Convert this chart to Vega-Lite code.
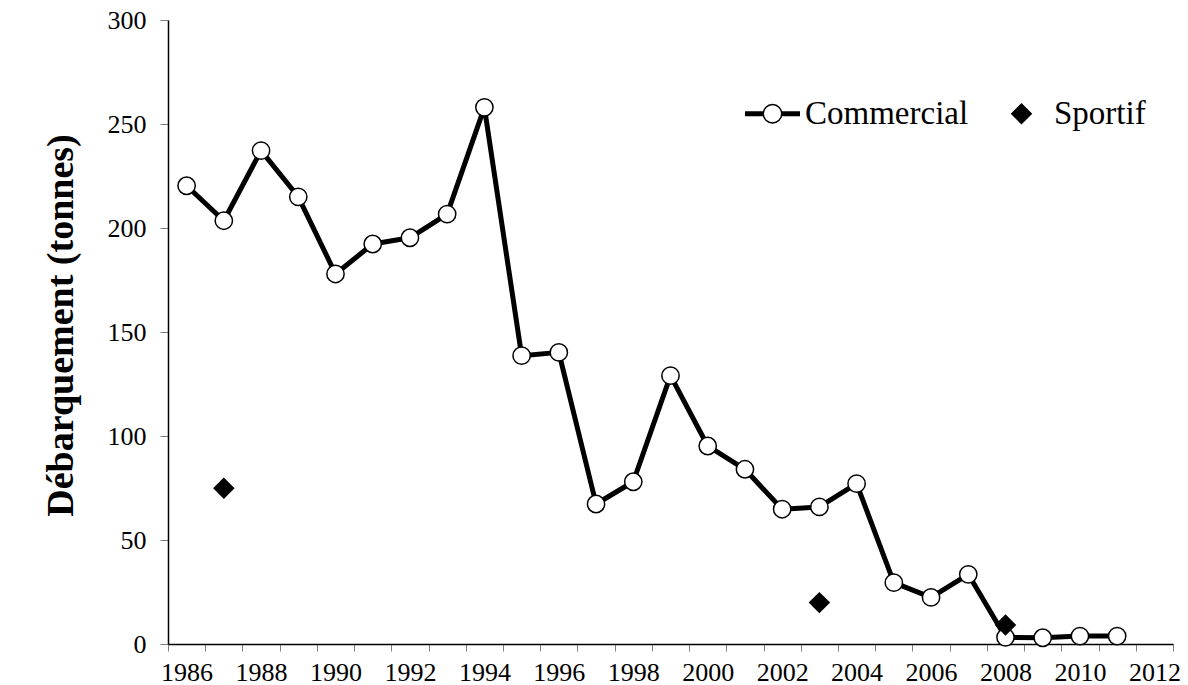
{
  "$schema": "https://vega.github.io/schema/vega-lite/v6.json",
  "width": 1005,
  "height": 624,
  "autosize": {"type": "none"},
  "padding": {"left": 168, "top": 20, "right": 15, "bottom": 41},
  "background": "white",
  "config": {"view": {"stroke": null}, "font": "Liberation Serif"},
  "data": {
    "values": [
      {"year": 1986, "value": 220.3, "series": "Commercial"},
      {"year": 1987, "value": 203.5, "series": "Commercial"},
      {"year": 1988, "value": 237.2, "series": "Commercial"},
      {"year": 1989, "value": 215.0, "series": "Commercial"},
      {"year": 1990, "value": 177.9, "series": "Commercial"},
      {"year": 1991, "value": 192.3, "series": "Commercial"},
      {"year": 1992, "value": 195.3, "series": "Commercial"},
      {"year": 1993, "value": 206.7, "series": "Commercial"},
      {"year": 1994, "value": 258.0, "series": "Commercial"},
      {"year": 1995, "value": 138.6, "series": "Commercial"},
      {"year": 1996, "value": 140.2, "series": "Commercial"},
      {"year": 1997, "value": 67.3, "series": "Commercial"},
      {"year": 1998, "value": 78.0, "series": "Commercial"},
      {"year": 1999, "value": 129.0, "series": "Commercial"},
      {"year": 2000, "value": 95.2, "series": "Commercial"},
      {"year": 2001, "value": 84.0, "series": "Commercial"},
      {"year": 2002, "value": 64.8, "series": "Commercial"},
      {"year": 2003, "value": 65.9, "series": "Commercial"},
      {"year": 2004, "value": 77.1, "series": "Commercial"},
      {"year": 2005, "value": 29.5, "series": "Commercial"},
      {"year": 2006, "value": 22.4, "series": "Commercial"},
      {"year": 2007, "value": 33.5, "series": "Commercial"},
      {"year": 2008, "value": 3.2, "series": "Commercial"},
      {"year": 2009, "value": 3.0, "series": "Commercial"},
      {"year": 2010, "value": 3.8, "series": "Commercial"},
      {"year": 2011, "value": 3.8, "series": "Commercial"},
      {"year": 1987, "value": 74.9, "series": "Sportif"},
      {"year": 2003, "value": 19.9, "series": "Sportif"},
      {"year": 2008, "value": 9.1, "series": "Sportif"}
    ]
  },
  "encoding": {
    "x": {
      "field": "year",
      "type": "ordinal",
      "scale": {
        "type": "band",
        "domain": [1986, 1987, 1988, 1989, 1990, 1991, 1992, 1993, 1994, 1995, 1996, 1997, 1998, 1999, 2000, 2001, 2002, 2003, 2004, 2005, 2006, 2007, 2008, 2009, 2010, 2011, 2012],
        "paddingInner": 0,
        "paddingOuter": 0
      },
      "axis": {
        "title": null,
        "tickBand": "extent",
        "labelAngle": 0,
        "labelExpr": "datum.value % 2 === 0 ? datum.label : ''",
        "labelFont": "Liberation Serif",
        "labelFontSize": 26,
        "labelColor": "black",
        "labelPadding": 8,
        "labelOverlap": false,
        "tickSize": 7,
        "tickColor": "#7f7f7f",
        "tickWidth": 1,
        "domainColor": "black",
        "domainWidth": 1.5,
        "grid": false
      }
    },
    "y": {
      "field": "value",
      "type": "quantitative",
      "scale": {"domain": [0, 300], "nice": false, "zero": true},
      "axis": {
        "values": [0, 50, 100, 150, 200, 250, 300],
        "grid": false,
        "domainColor": "black",
        "domainWidth": 1.5,
        "tickColor": "#7f7f7f",
        "tickSize": 8,
        "tickWidth": 1,
        "labelFont": "Liberation Serif",
        "labelFontSize": 26,
        "labelColor": "black",
        "labelPadding": 14,
        "labelFlush": false,
        "labelOverlap": false,
        "title": "Débarquement (tonnes)",
        "titleFont": "Liberation Serif",
        "titleFontWeight": "bold",
        "titleFontSize": 38,
        "titleColor": "black",
        "titlePadding": 27,
        "titleY": 305
      }
    }
  },
  "layer": [
    {
      "transform": [{"filter": "datum.series === 'Commercial'"}],
      "mark": {"type": "line", "color": "black", "strokeWidth": 5, "strokeJoin": "round"}
    },
    {
      "transform": [{"filter": "datum.series === 'Commercial'"}],
      "mark": {"type": "point", "shape": "circle", "filled": true, "fill": "white", "stroke": "black", "strokeWidth": 1.5, "size": 300, "opacity": 1}
    },
    {
      "mark": {"type": "point", "filled": true, "fill": "black", "strokeWidth": 0, "size": 460},
      "encoding": {
        "shape": {
          "field": "series",
          "type": "nominal",
          "scale": {
            "domain": ["Commercial", "Sportif"],
            "range": [
              "M-2.5644,-0.2331H-0.85V0.2331H-2.5644Z M0.85,-0.2331H2.5644V0.2331H0.85Z M0.9325,0L0.8615,0.3569L0.6594,0.6594L0.3569,0.8615L0,0.9325L-0.3569,0.8615L-0.6594,0.6594L-0.8615,0.3569L-0.9325,0L-0.8615,-0.3569L-0.6594,-0.6594L-0.3569,-0.8615L0,-0.9325L0.3569,-0.8615L0.6594,-0.6594L0.8615,-0.3569Z M0.7926,0L0.7323,-0.3033L0.5605,-0.5605L0.3033,-0.7323L0,-0.7926L-0.3033,-0.7323L-0.5605,-0.5605L-0.7323,-0.3033L-0.7926,0L-0.7323,0.3033L-0.5605,0.5605L-0.3033,0.7323L0,0.7926L0.3033,0.7323L0.5605,0.5605L0.7323,0.3033Z",
              "diamond"
            ]
          },
          "legend": {
            "orient": "none",
            "legendX": 577,
            "legendY": 77,
            "direction": "horizontal",
            "title": null,
            "padding": 0,
            "labelFont": "Liberation Serif",
            "labelFontSize": 33,
            "labelColor": "black",
            "labelLimit": 400,
            "symbolSize": 460,
            "symbolOffset": 11,
            "labelOffset": 16,
            "columnPadding": 25,
            "symbolStrokeWidth": 0,
            "symbolFillColor": "black",
            "symbolOpacity": 1
          }
        },
        "opacity": {
          "condition": {"test": "datum.series === 'Commercial'", "value": 0},
          "value": 1
        }
      }
    }
  ]
}
